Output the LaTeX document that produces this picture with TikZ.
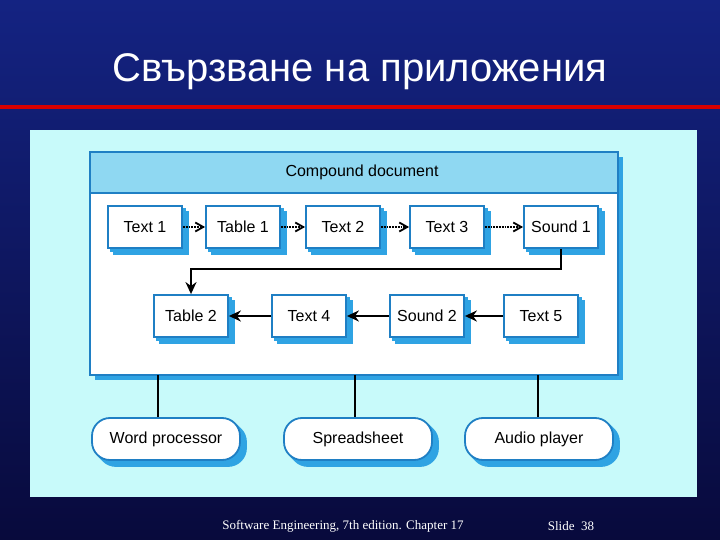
\documentclass[tikz,border=0pt]{standalone}
\usepackage{fontspec}
\setmainfont{Liberation Sans}
\newfontfamily\tms{Liberation Serif}
\usetikzlibrary{arrows.meta,shadows}
\definecolor{bord}{HTML}{1F7FC4}
\definecolor{shad}{HTML}{2FA3E3}
\definecolor{panel}{HTML}{C8FAFA}
\definecolor{head}{HTML}{8FD8F2}
\tikzset{
 box/.style={draw=bord,line width=1.8pt,fill=white,minimum width=74pt,minimum height=42pt,inner sep=0pt,font=\fontsize{16}{18}\selectfont,
   double copy shadow={shadow xshift=3pt,shadow yshift=-3pt,fill=shad,draw=shad}},
 oval/.style={box,rounded corners=18pt,minimum width=148pt,minimum height=42pt},
 dot/.style={densely dotted,line width=1.8pt,-{Straight Barb[length=8pt,width=9pt]}},
 arr/.style={line width=2pt,-{Stealth[length=12pt,width=11pt]}},
 ln/.style={line width=2pt}
}
\begin{document}
\begin{tikzpicture}[x=1pt,y=-1pt]
\shade[top color={rgb,255:red,20;green,35;blue,130},bottom color={rgb,255:red,8;green,10;blue,60}] (0,0) rectangle (720,540);
\useasboundingbox (0,0) rectangle (720,540);
\node[text=white,font=\fontsize{40}{44}\selectfont] (title) at (360,72) {Свързване на приложения};
\fill[red!85!black] (0,105) rectangle (720,109);
\fill[panel] (30,130) rectangle (697,497);
% document
\fill[shad] (95,157) rectangle (623,380);
\draw[bord,line width=1.8pt,fill=white] (90,152) rectangle (618,375);
\draw[bord,line width=1.8pt,fill=head] (90,152) rectangle (618,193);
\node[font=\fontsize{16}{18}\selectfont] (doc) at (362,172) {Compound document};
\coordinate (dA) at (158,375);\coordinate (dB) at (355,375);\coordinate (dC) at (538,375);
\node[box] (t1) at (145,227) {Text 1};
\node[box] (tb1) at (243,227) {Table 1};
\node[box] (t2) at (343,227) {Text 2};
\node[box] (t3) at (447,227) {Text 3};
\node[box] (s1) at (561,227) {Sound 1};
\node[box] (tb2) at (191,316) {Table 2};
\node[box] (t4) at (309,316) {Text 4};
\node[box] (s2) at (427,316) {Sound 2};
\node[box] (t5) at (541,316) {Text 5};
\draw[dot] (t1) -- (tb1);
\draw[dot] (tb1) -- (t2);
\draw[dot] (t2) -- (t3);
\draw[dot] (t3) -- (s1);
\draw[arr] (s1.south) -- ++(0,20) -| (tb2.north);
\draw[arr] (t5) -- (s2);
\draw[arr] (s2) -- (t4);
\draw[arr] (t4) -- (tb2);
\node[oval] (wp) at (166,439) {Word processor};
\node[oval] (ss) at (358,439) {Spreadsheet};
\node[oval] (ap) at (539,439) {Audio player};
\draw[ln] (dA) -- (dA |- wp.north);
\draw[ln] (dB) -- (dB |- ss.north);
\draw[ln] (dC) -- (dC |- ap.north);
\node[text=white,font=\tms\fontsize{13}{15}\selectfont] (ft) at (343,526) {Software Engineering, 7th edition. Chapter 17};
\node[text=white,font=\tms\fontsize{13}{15}\selectfont] (sl) at (571,526) {Slide\ \ 38};
\end{tikzpicture}
\end{document}
